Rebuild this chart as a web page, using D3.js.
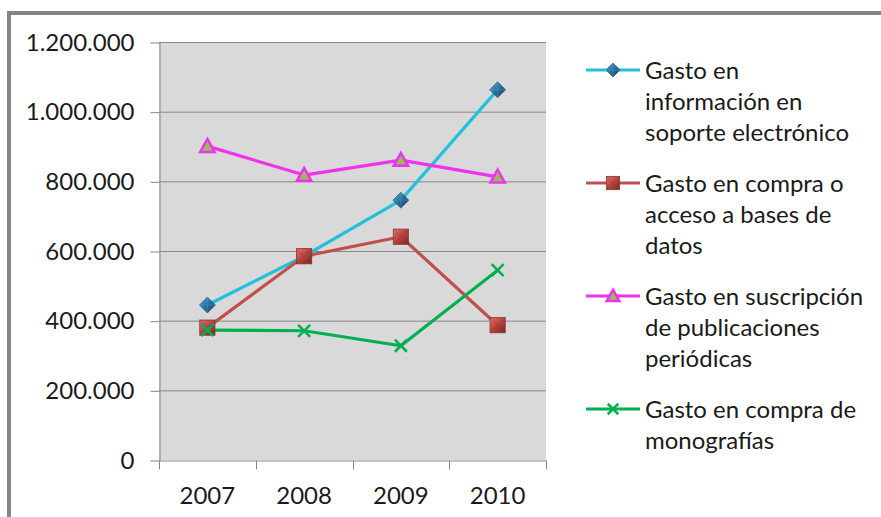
<!DOCTYPE html>
<html lang="es">
<head>
  <meta charset="UTF-8">
  <title>Gasto 2007-2010</title>
  <script src="https://d3js.org/d3.v7.min.js"></script>
</head>
<body style="margin:0;background:#fff">

<div id="chart"></div>

<script>

var years = ["2007", "2008", "2009", "2010"];
var yTicks = [0, 200000, 400000, 600000, 800000, 1000000, 1200000];

var electronico = [445000, 585000, 746000, 1063000];
var basesDatos = [380000, 585000, 641000, 387000];
var suscripcion = [901000, 818000, 861000, 813000];
var monografias = [373000, 371000, 328000, 545000];

var seriesNames = [
  ["Gasto en", "información en", "soporte electrónico"],
  ["Gasto en compra o", "acceso a bases de", "datos"],
  ["Gasto en suscripción", "de publicaciones", "periódicas"],
  ["Gasto en compra de", "monografías"]
];

var series = [
  {values: electronico, color: "#21c0dc", marker: "diamond"},
  {values: basesDatos, color: "#c0504d", marker: "square"},
  {values: suscripcion, color: "#ee33ee", marker: "triangle"},
  {values: monografias, color: "#00b050", marker: "x"}
];

var width = 881, height = 517;
var plot = {left: 159, right: 546, top: 42, bottom: 460};
var font = "Lato, 'Open Sans', sans-serif";

var svg = d3.select("#chart").append("svg")
  .attr("width", width)
  .attr("height", height)
  .style("font-family", font);

// gradients for 3D looking markers
var defs = svg.append("defs");
var g1 = defs.append("linearGradient").attr("id", "gDiamond")
  .attr("x1", 0).attr("y1", 0).attr("x2", 1).attr("y2", 1);
g1.append("stop").attr("offset", "0%").attr("stop-color", "#4fb3d8");
g1.append("stop").attr("offset", "50%").attr("stop-color", "#2a6d9a");
g1.append("stop").attr("offset", "100%").attr("stop-color", "#1a3f66");
var g2 = defs.append("linearGradient").attr("id", "gSquare")
  .attr("x1", 0).attr("y1", 0).attr("x2", 1).attr("y2", 1);
g2.append("stop").attr("offset", "0%").attr("stop-color", "#e0716c");
g2.append("stop").attr("offset", "50%").attr("stop-color", "#b4433f");
g2.append("stop").attr("offset", "100%").attr("stop-color", "#7a2624");

// outer frame (top + left only, chart is cropped)
svg.append("line").attr("x1", 9).attr("x2", width).attr("y1", 13).attr("y2", 13)
  .attr("stroke", "#858585").attr("stroke-width", 4);
svg.append("line").attr("x1", 9).attr("x2", 9).attr("y1", 11).attr("y2", height)
  .attr("stroke", "#858585").attr("stroke-width", 4);

var x = d3.scaleBand().domain(years).range([plot.left, plot.right]);
var y = d3.scaleLinear().domain([0, 1200000]).range([plot.bottom, plot.top]);

svg.append("rect")
  .attr("x", plot.left).attr("y", plot.top)
  .attr("width", plot.right - plot.left).attr("height", plot.bottom - plot.top)
  .attr("fill", "#d9d9d9");

// gridlines
svg.append("g").selectAll("line")
  .data(yTicks.filter(d => d > 0))
  .join("line")
  .attr("x1", plot.left).attr("x2", plot.right)
  .attr("y1", d => y(d) + 0.5).attr("y2", d => y(d) + 0.5)
  .attr("stroke", "#868686").attr("stroke-width", 1);

var fmt = d3.formatLocale({decimal: ",", thousands: ".", grouping: [3], currency: ["", ""]}).format(",");

var yAxis = svg.append("g")
  .attr("transform", "translate(" + (plot.left + 0.5) + ",0.5)")
  .call(d3.axisLeft(y).tickValues(yTicks).tickFormat(fmt).tickSize(9).tickSizeOuter(0).tickPadding(16));
yAxis.selectAll("text").attr("font-size", 24).attr("fill", "#1a1a1a")
  .attr("font-family", font);
yAxis.selectAll("line, path").attr("stroke", "#868686");

var xAxis = svg.append("g")
  .attr("transform", "translate(0," + (plot.bottom + 0.5) + ")")
  .call(d3.axisBottom(x).tickSize(0).tickPadding(26));
xAxis.selectAll("text").attr("font-size", 24).attr("fill", "#1a1a1a")
  .attr("font-family", font);
xAxis.select(".domain").attr("stroke", "#868686");
// tick marks at band boundaries
xAxis.selectAll(".btick")
  .data(years.map(d => x(d)).concat([x(years[years.length - 1]) + x.bandwidth()]))
  .join("line")
  .attr("x1", d => Math.round(d) + 0.5).attr("x2", d => Math.round(d) + 0.5)
  .attr("y1", 0).attr("y2", 9)
  .attr("stroke", "#868686");

function drawMarker(g, type, color, s) {
  if (type === "diamond") {
    g.append("path").attr("d", "M0," + (-s) + "L" + s + ",0L0," + s + "L" + (-s) + ",0Z")
      .attr("fill", "url(#gDiamond)").attr("stroke", "#1f4e79").attr("stroke-width", 0.6);
    g.append("path").attr("d", "M0," + (-s) + "L0," + s + "M" + (-s) + ",0L" + s + ",0")
      .attr("stroke", "#5aa9cf").attr("stroke-width", 0.6).attr("opacity", 0.6);
  } else if (type === "square") {
    var h = s * 0.95;
    g.append("rect").attr("x", -h).attr("y", -h).attr("width", 2 * h).attr("height", 2 * h)
      .attr("fill", "url(#gSquare)").attr("stroke", "#8c3431").attr("stroke-width", 0.8);
    g.append("path").attr("d", "M" + (-h) + "," + (-h) + "L" + h + "," + h + "M" + h + "," + (-h) + "L" + (-h) + "," + h)
      .attr("stroke", "#8c3431").attr("stroke-width", 0.6).attr("opacity", 0.6);
  } else if (type === "triangle") {
    var t = s * 0.9;
    g.append("path").attr("d", "M0," + (-t) + "L" + t + "," + (t * 0.8) + "L" + (-t) + "," + (t * 0.8) + "Z")
      .attr("fill", "#9bbb59").attr("stroke", color).attr("stroke-width", 2.5);
  } else {
    var c = s * 0.75;
    g.append("path").attr("d", "M" + (-c) + "," + (-c) + "L" + c + "," + c + "M" + c + "," + (-c) + "L" + (-c) + "," + c)
      .attr("stroke", color).attr("stroke-width", 2.5).attr("fill", "none");
  }
}

var line = d3.line()
  .x((d, i) => x(years[i]) + x.bandwidth() / 2)
  .y(d => y(d));

series.forEach(function(s) {
  svg.append("path").datum(s.values)
    .attr("fill", "none").attr("stroke", s.color).attr("stroke-width", 3.2)
    .attr("stroke-linejoin", "round").attr("d", line);
});
series.forEach(function(s) {
  s.values.forEach(function(v, i) {
    var g = svg.append("g")
      .attr("transform", "translate(" + (x(years[i]) + x.bandwidth() / 2) + "," + y(v) + ")");
    drawMarker(g, s.marker, s.color, 8);
  });
});

// legend
var legendTop = [70, 183, 296, 409];
var lineH = 31.3;
series.forEach(function(s, k) {
  var cy = legendTop[k];
  svg.append("line").attr("x1", 586).attr("x2", 640).attr("y1", cy).attr("y2", cy)
    .attr("stroke", s.color).attr("stroke-width", 3.2);
  drawMarker(svg.append("g").attr("transform", "translate(613," + cy + ")"), s.marker, s.color, 7);
  var t = svg.append("text").attr("x", 645).attr("y", cy + 8.5)
    .attr("font-size", 24).attr("fill", "#1a1a1a");
  seriesNames[k].forEach(function(txt, j) {
    t.append("tspan").attr("x", 645).attr("dy", j === 0 ? 0 : lineH).text(txt);
  });
});

</script>
</body>
</html>
